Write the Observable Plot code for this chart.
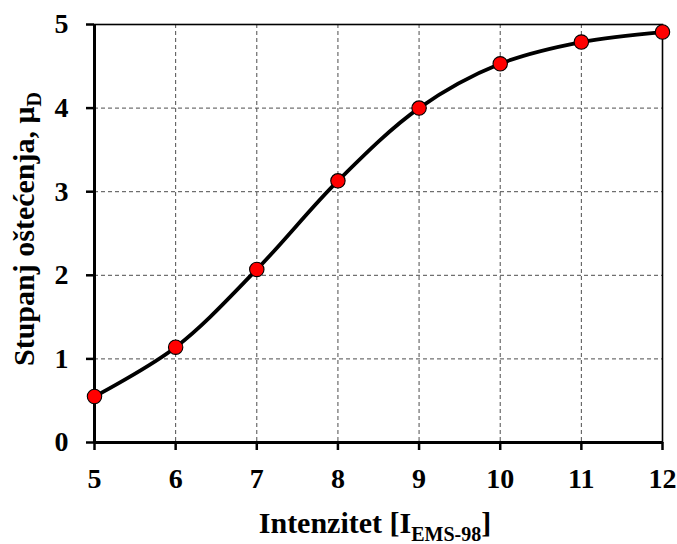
<!DOCTYPE html>
<html>
<head>
<meta charset="utf-8">
<script src="https://cdn.jsdelivr.net/npm/d3@7"></script>
<script src="https://cdn.jsdelivr.net/npm/@observablehq/plot@0.6"></script>
<style>
  html, body { margin: 0; padding: 0; background: white; }
  svg text { font-family: "Liberation Serif", "Times New Roman", serif !important; font-weight: bold !important; }
</style>
</head>
<body>
<div id="chart"></div>
<script>
const intensity = [5, 6, 7, 8, 9, 10, 11, 12];
const damage = [0.55, 1.14, 2.07, 3.13, 4.0, 4.53, 4.79, 4.91];
const xTicks = [5, 6, 7, 8, 9, 10, 11, 12];
const yTicks = [0, 1, 2, 3, 4, 5];
const xGridVals = [6, 7, 8, 9, 10, 11];
const yGridVals = [1, 2, 3, 4];

const data = intensity.map((x, i) => ({x, y: damage[i]}));
const font = "Liberation Serif";

const chart = Plot.plot({
  width: 677,
  height: 544,
  marginLeft: 94,
  marginRight: 15,
  marginTop: 24,
  marginBottom: 102,
  x: {domain: [5, 12]},
  y: {domain: [0, 5]},
  style: {fontFamily: font, fontSize: "28px", background: "white", color: "black"},
  marks: [
    Plot.gridX(xGridVals, {stroke: "#4d4d4d", strokeOpacity: 1, strokeWidth: 1, strokeDasharray: "4,3"}),
    Plot.gridY(yGridVals, {stroke: "#4d4d4d", strokeOpacity: 1, strokeWidth: 1, strokeDasharray: "4,3"}),
    Plot.frame({stroke: "black", strokeWidth: 1.6}),
    Plot.axisX({ticks: xTicks, tickSize: 8, tickPadding: 18, strokeWidth: 2.5, fontSize: 28, label: null, tickFormat: d => String(d)}),
    Plot.axisY({ticks: yTicks, tickSize: 8, tickPadding: 18, strokeWidth: 2.5, fontSize: 28, label: null, tickFormat: d => String(d)}),
    Plot.ruleX([5], {stroke: "black", strokeWidth: 3}),
    Plot.ruleY([0], {stroke: "black", strokeWidth: 3}),
    Plot.line(data, {x: "x", y: "y", curve: "catmull-rom", stroke: "black", strokeWidth: 3.8}),
    Plot.dot(data, {x: "x", y: "y", r: 7.2, fill: "#ff0000", stroke: "black", strokeWidth: 1.1})
  ]
});

document.getElementById("chart").appendChild(chart);

const svg = d3.select(chart);
svg.selectAll("g[aria-label$='tick label'] text").style("font-size", "28px");

// X axis title
const xt = svg.append("text")
  .attr("x", 375)
  .attr("y", 533)
  .attr("text-anchor", "middle")
  .style("font-size", "30px")
  .attr("fill", "black");
xt.append("tspan").text("Intenzitet [I");
xt.append("tspan").style("font-size", "20px").attr("dy", 8).text("EMS-98");
xt.append("tspan").attr("dy", -8).text("]");

// Y axis title
const yt = svg.append("text")
  .attr("transform", "translate(33.5,229) rotate(-90)")
  .attr("text-anchor", "middle")
  .style("font-size", "30px")
  .attr("fill", "black");
yt.append("tspan").text("Stupanj oštećenja, μ");
yt.append("tspan").style("font-size", "20px").attr("dy", 7).text("D");
</script>
</body>
</html>
